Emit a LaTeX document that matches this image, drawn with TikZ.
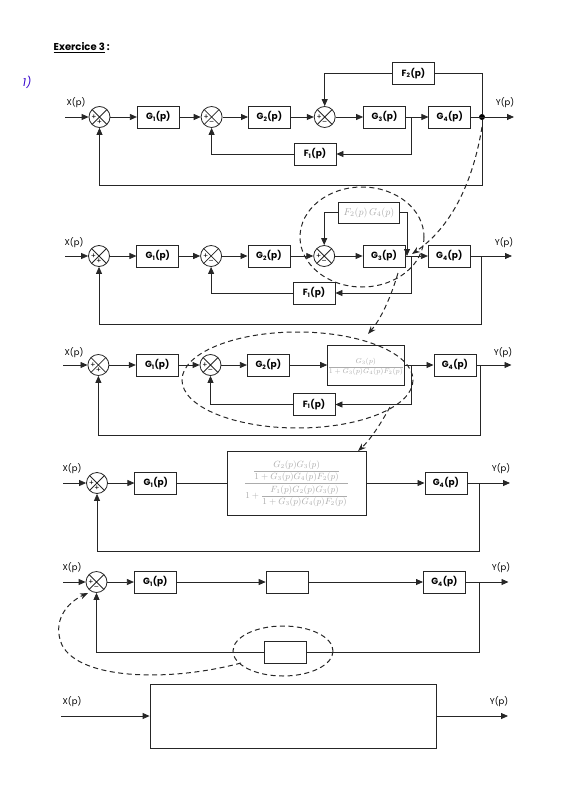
\documentclass[tikz,border=0pt]{standalone}
\usepackage{amsmath}
\usepackage{fontspec}
\setmainfont{Poppins}
\usetikzlibrary{
    arrows.meta,
    positioning
}

\newcommand{\tfun}[2]{#1\textsubscript{#2}(p)}

\begin{document}
\begin{tikzpicture}[
    x=1pt, y=-1pt,
    line width=0.8pt, draw=black!85,
    every node/.style={font=\fontsize{8.5}{9}\selectfont},
    block/.style={rectangle, draw, minimum width=42pt, minimum height=22pt,
      inner sep=1pt, font=\fontsize{9}{10}\selectfont\bfseries},
    sumj/.style={circle, draw, minimum size=21pt, inner sep=0pt,
      path picture={\draw (path picture bounding box.north west) -- (path picture bounding box.south east)
        (path picture bounding box.south west) -- (path picture bounding box.north east);}},
    sgn/.style={font=\fontsize{7.5}{8}\selectfont, inner sep=0pt},
    hand/.style={text=gray!65, font=\fontsize{7.5}{8}\selectfont},
    arrow/.style={-{Triangle[length=7pt,width=6pt]}},
    dashring/.style={dash pattern=on 5pt off 3.5pt, line width=1pt},
    dasharrow/.style={dashring, -{Stealth[length=8pt,width=6pt]}}
]
\useasboundingbox (0,0) rectangle (582,800);

% title
\node[font=\fontsize{10}{11}\selectfont\bfseries, anchor=west] (title) at (50,48) {\underline{Exercice 3} :};
\node[text=blue!60!violet, font=\itshape\fontsize{11}{12}\selectfont] (part) at (27,82) {1)};

% row 1 : original diagram
\node (ax) at (76,103) {X(p)};
\node (ay) at (505,103) {Y(p)};
\coordinate (ain) at (65,117);
\coordinate (aout) at (514,117);
\node[sumj] (a1) at (99.5,117) {};
\node[block, right=26.5pt of a1] (ag1) {\tfun{G}{1}};
\node[sumj, right=21pt of ag1] (a2) {};
\node[block, right=25.5pt of a2] (ag2) {\tfun{G}{2}};
\node[sumj, right=23pt of ag2] (a3) {};
\node[block, right=27.5pt of a3] (ag3) {\tfun{G}{3}};
\node[block, right=22.5pt of ag3] (ag4) {\tfun{G}{4}};
\node[block] (af2) at (413.5,73.5) {\tfun{F}{2}};
\node[block] (af1) at (315,154) {\tfun{F}{1}};
\node[circle, fill, inner sep=0pt, minimum size=6pt] (adot) at (482,117) {};
\coordinate (ab) at (411,117);
\coordinate (afb) at (482,185);
\draw[arrow] (ain) -- (a1);
\draw[arrow] (a1) -- (ag1);
\draw[arrow] (ag1) -- (a2);
\draw[arrow] (a2) -- (ag2);
\draw[arrow] (ag2) -- (a3);
\draw[arrow] (a3) -- (ag3);
\draw[arrow] (ag3) -- (ag4);
\draw[arrow] (ag4) -- (aout);
\draw (adot) |- (af2);
\draw[arrow] (af2) -| (a3);
\draw[arrow] (ab) |- (af1);
\draw[arrow] (af1) -| (a2);
\draw[arrow] (adot) -- (afb) -| (a1);

% row 2 : F2 moved behind G4
\node (bx) at (74,243) {X(p)};
\node (by) at (504,243) {Y(p)};
\coordinate (bin) at (65,256);
\coordinate (bout) at (512,256);
\node[sumj] (b1) at (99,256) {};
\node[block, right=26.5pt of b1] (bg1) {\tfun{G}{1}};
\node[sumj, right=21pt of bg1] (b2) {};
\node[block, right=25.5pt of b2] (bg2) {\tfun{G}{2}};
\node[sumj, right=23pt of bg2] (b3) {};
\node[block, right=27.5pt of b3] (bg3) {\tfun{G}{3}};
\node[block, right=22.5pt of bg3] (bg4) {\tfun{G}{4}};
\node[block, hand, font=\fontsize{10}{11}\selectfont, minimum width=61pt, minimum height=21pt] (bf24) at (369,212.5) {$F_2(p)\,G_4(p)$};
\node[block] (bf1) at (314,293) {\tfun{F}{1}};
\coordinate (bm) at (407,256);
\coordinate (bb) at (411,256);
\coordinate (bo) at (481.5,256);
\coordinate (bfb) at (481.5,324);
\draw[arrow] (bin) -- (b1);
\draw[arrow] (b1) -- (bg1);
\draw[arrow] (bg1) -- (b2);
\draw[arrow] (b2) -- (bg2);
\draw[arrow] (bg2) -- (b3);
\draw[arrow] (b3) -- (bg3);
\draw[arrow] (bg3) -- (bg4);
\draw[arrow] (bg4) -- (bout);
\draw[arrow] (bf24) -| (b3);
\draw[arrow] (bf24) -| (bm);
\draw[arrow] (bb) |- (bf1);
\draw[arrow] (bf1) -| (b2);
\draw[arrow] (bo) -- (bfb) -| (b1);
\draw[dashring] (362,237) ellipse [x radius=62, y radius=50];

% row 3 : inner loop reduced
\node (cx) at (74,353) {X(p)};
\node (cy) at (503,353) {Y(p)};
\coordinate (cin) at (63,365);
\coordinate (cout) at (511.5,365);
\node[sumj] (c1) at (98.4,365) {};
\node[block, right=26.5pt of c1] (cg1) {\tfun{G}{1}};
\node[sumj, right=21pt of cg1] (c2) {};
\node[block, right=25.5pt of c2] (cg2) {\tfun{G}{2}};
\node[block, hand, font=\fontsize{7}{8}\selectfont, inner sep=0pt, minimum width=70pt, minimum height=40pt, right=37.5pt of cg2] (cg34)
  {$\dfrac{\rule{0pt}{9pt}G_3(p)}{1+G_3(p)G_4(p)F_2(p)}$};
\node[block, right=29pt of cg34] (cg4) {\tfun{G}{4}};
\node[block] (cf1) at (314,404.5) {\tfun{F}{1}};
\coordinate (cb) at (411,365);
\coordinate (co) at (480.7,365);
\coordinate (cfb) at (480.7,435);
\draw[arrow] (cin) -- (c1);
\draw[arrow] (c1) -- (cg1);
\draw[arrow] (cg1) -- (c2);
\draw[arrow] (c2) -- (cg2);
\draw[arrow] (cg2) -- (cg34);
\draw[arrow] (cg34) -- (cg4);
\draw[arrow] (cg4) -- (cout);
\draw[arrow] (cb) |- (cf1);
\draw[arrow] (cf1) -| (c2);
\draw[arrow] (co) -- (cfb) -| (c1);
\draw[dashring] (297.5,380) ellipse [x radius=115.5, y radius=48];

% row 4 : second loop reduced
\node (dx) at (72,469) {X(p)};
\node (dy) at (501,469) {Y(p)};
\coordinate (din) at (63,483);
\coordinate (dout) at (510,483);
\node[sumj] (d1) at (97,483) {};
\node[block, right=26.5pt of d1] (dg1) {\tfun{G}{1}};
\node[block, hand, font=\fontsize{9}{10}\selectfont, minimum width=139pt, minimum height=64pt, right=49.5pt of dg1] (dbig)
  {$\dfrac{\dfrac{\rule{0pt}{9pt}G_2(p)G_3(p)}{1+G_3(p)G_4(p)F_2(p)}}{\rule{0pt}{14pt}1+\dfrac{F_1(p)G_2(p)G_3(p)}{1+G_3(p)G_4(p)F_2(p)}}$};
\node[block, right=58pt of dbig] (dg4) {\tfun{G}{4}};
\coordinate (do) at (479.6,483);
\coordinate (dfb) at (479.6,551);
\draw[arrow] (din) -- (d1);
\draw[arrow] (d1) -- (dg1);
\draw (dg1) -- (dbig);
\draw[arrow] (dbig) -- (dg4);
\draw[arrow] (dg4) -- (dout);
\draw[arrow] (do) -- (dfb) -| (d1);

% row 5 : to fill in
\node (ex) at (72,568) {X(p)};
\node (ey) at (501,568) {Y(p)};
\coordinate (ein) at (63,582);
\coordinate (eout) at (508.5,582);
\node[sumj] (e1) at (96.5,582) {};
\node[block, right=26.5pt of e1] (eg1) {\tfun{G}{1}};
\node[block, right=89pt of eg1] (ebox) {};
\node[block, right=114.5pt of ebox] (eg4) {\tfun{G}{4}};
\node[block] (ef) at (285,652) {};
\coordinate (eo) at (479,582);
\draw[arrow] (ein) -- (e1);
\draw[arrow] (e1) -- (eg1);
\draw[arrow] (eg1) -- (ebox);
\draw[arrow] (ebox) -- (eg4);
\draw[arrow] (eg4) -- (eout);
\draw (eo) |- (ef);
\draw[arrow] (ef) -| (e1);
\draw[dashring] (283,651) ellipse [x radius=50, y radius=25];

% row 6 : single block
\node (fx) at (72,702) {X(p)};
\node (fy) at (499,702) {Y(p)};
\coordinate (fin) at (61,716);
\coordinate (fout) at (508,716);
\node[block, minimum width=286pt, minimum height=64pt] (fsys) at (293,716) {};
\draw[arrow] (fin) -- (fsys);
\draw[arrow] (fsys) -- (fout);

% signs in the summing points
\foreach \j/\l/\b in {a1/+/+, a2/+/--, a3/+/--, b1/+/+, b2/+/--, b3/+/--,
                      c1/+/+, c2/+/--, d1/+/+, e1/+/--} {
  \node[sgn] at ([xshift=-5.5pt]\j.center) {\l};
  \node[sgn] at ([yshift=-5.5pt]\j.center) {\b};
}

% dashed moves between the steps
\coordinate (m1) at (482,127);
\coordinate (m2) at (412,254);
\coordinate (m3) at (398,273);
\coordinate (m4) at (368,334);
\coordinate (m5) at (390,407);
\coordinate (m6) at (358,451);
\coordinate (m7) at (241,663);
\coordinate (m8) at (88,593);
\draw[dasharrow] (m1) .. controls (470,200) and (440,235) .. (m2);
\draw[dasharrow] (m3) .. controls (390,300) and (380,320) .. (m4);
\draw[dasharrow] (m5) .. controls (380,425) and (370,440) .. (m6);
\draw[dasharrow] (m7) .. controls (170,682) and (80,680) .. (62,645) .. controls (52,622) and (66,603) .. (m8);
\end{tikzpicture}
\end{document}
